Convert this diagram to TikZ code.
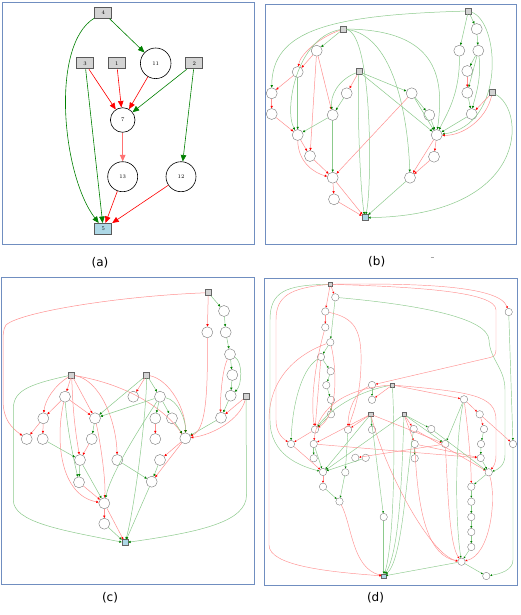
\documentclass[tikz,border=0pt]{standalone}
\usepackage{fontspec}
\newfontfamily\lblfont{DejaVu Sans}
\usetikzlibrary{arrows.meta}
\definecolor{frame}{RGB}{112,142,192}
\definecolor{ag}{RGB}{0,128,0}
\definecolor{ar}{RGB}{255,0,0}
\definecolor{lg}{RGB}{140,202,140}
\definecolor{lr}{RGB}{255,145,145}
\definecolor{boxgray}{RGB}{211,211,211}
\definecolor{lblue}{RGB}{173,216,230}
\definecolor{nodeedge}{RGB}{120,120,120}
\begin{document}
\begin{tikzpicture}[x=1pt,y=-1pt,
  framebox/.style={draw=frame,line width=0.9pt},
  paneltag/.style={font=\lblfont\fontsize{12}{14}\selectfont,inner sep=0pt},
  boxA/.style={draw=black!65,fill=boxgray,line width=1pt,minimum width=17pt,minimum height=11pt,inner sep=0pt,font=\fontsize{5.5}{6}\selectfont},
  cirA/.style={circle,draw=black,line width=0.6pt,inner sep=0pt,font=\fontsize{5.5}{6}\selectfont},
  boxB/.style={draw=black!60,fill=boxgray,line width=0.5pt,minimum size=6pt,inner sep=0pt},
  cirB/.style={circle,draw=nodeedge,line width=0.4pt,minimum size=11pt,inner sep=0pt},
  boxD/.style={draw=black!60,fill=boxgray,line width=0.45pt,minimum size=4.3pt,inner sep=0pt},
  cirD/.style={circle,draw=nodeedge,line width=0.35pt,minimum size=7.4pt,inner sep=0pt},
  gA/.style={draw=ag,line width=0.6pt,-{Triangle[length=6.5pt,width=5.5pt]}},
  rA/.style={draw=ar,line width=0.6pt,-{Triangle[length=6.5pt,width=5.5pt]}},
  gB/.style={draw=lg,line width=0.5pt,-{Triangle[length=2.4pt,width=2.2pt,color=ag]}},
  rB/.style={draw=lr,line width=0.5pt,-{Triangle[length=2.4pt,width=2.2pt,color=ar]}},
  gD/.style={draw=lg,line width=0.45pt,-{Triangle[length=1.9pt,width=1.8pt,color=ag]}},
  rD/.style={draw=lr,line width=0.45pt,-{Triangle[length=1.9pt,width=1.8pt,color=ar]}}
]
\useasboundingbox (0,0) rectangle (520,615);
\fill[white] (0,0) rectangle (520,615);
% frames and tags
\draw[framebox] (2.7,2.7) rectangle (254,244);
\draw[framebox] (265,4) rectangle (516.7,244);
\draw[framebox] (1,277.7) rectangle (254.3,584);
\draw[framebox] (264.7,278.3) rectangle (517.3,585);
\node[paneltag] (ta) at (100,262.5) {(a)};
\node[paneltag] (tb) at (376.7,262) {(b)};
\node[paneltag] (tc) at (110,598) {(c)};
\node[paneltag] (td) at (375.5,598) {(d)};
\draw[black!35,line width=0.5pt] (430.5,257) -- (434,257);

% ================= (a)
\node[boxA] (a4) at (103.3,12.7) {4};
\node[boxA] (a3) at (85,63.3) {3};
\node[boxA] (a1) at (116.7,63.3) {1};
\node[cirA,minimum size=30.6pt] (a11) at (155.7,63.3) {11};
\node[boxA] (a2) at (194.3,63.3) {2};
\node[cirA,minimum size=24.6pt] (a7) at (122.7,120) {7};
\node[cirA,minimum size=30pt] (a13) at (122.7,176.7) {13};
\node[cirA,minimum size=30pt] (a12) at (181,176.7) {12};
\node[boxA,fill=lblue] (a5) at (103.3,229) {5};
\draw[gA] (a4) -- (a11);
\draw[gA] (a4) .. controls (50,45) and (62,175) .. (a5);
\draw[rA] (a3) -- (a7);
\draw[gA] (a3) -- (a5);
\draw[rA] (a1) -- (a7);
\draw[rA] (a11) -- (a7);
\draw[gA] (a2) -- (a7);
\draw[gA] (a2) -- (a12);
\draw[rA,draw=ar!55,line width=1pt] (a7) -- (a13);
\draw[rA] (a13) -- (a5);
\draw[rA] (a12) -- (a5);

% ================= (b)
\node[boxB] (bT1) at (468.3,11) {};
\node[boxB] (bT2) at (343.3,29) {};
\node[boxB] (bT3) at (359,71.7) {};
\node[boxB] (bT4) at (492.3,92.7) {};
\node[boxB,fill=lblue] (bS) at (365,217.7) {};
\node[cirB] (bA) at (316.7,50.7) {};
\node[cirB] (bB) at (297.7,72) {};
\node[cirB] (bC) at (271.7,93.3) {};
\node[cirB] (bD) at (271.7,114) {};
\node[cirB] (bE) at (297.7,135) {};
\node[cirB] (bF) at (310,156) {};
\node[cirB] (bG) at (332.7,115) {};
\node[cirB] (bH) at (346.7,93.3) {};
\node[cirB] (bI) at (332.7,177.7) {};
\node[cirB] (bJ) at (334,199.3) {};
\node[cirB] (bK) at (411.7,93.3) {};
\node[cirB] (bL) at (429.3,115) {};
\node[cirB] (bM) at (436.7,135) {};
\node[cirB] (bN) at (434,156.7) {};
\node[cirB] (bO) at (410,177.7) {};
\node[cirB] (bP) at (459.3,50.7) {};
\node[cirB] (bQ) at (476.7,29) {};
\node[cirB] (bR) at (478.3,50.7) {};
\node[cirB] (bW) at (467.3,71) {};
\node[cirB] (bU) at (467.3,92.7) {};
\node[cirB] (bV) at (471.7,114) {};
\draw[gB] (bT1) .. controls (330,15) and (272,30) .. (bC);
\draw[gB] (bT1) -- (bQ);
\draw[gB] (bT1) -- (bP);
\draw[gB] (bT1) .. controls (500,22) and (506,125) .. (bM);
\draw[gB] (bQ) -- (bR);
\draw[gB] (bR) -- (bW);
\draw[gB] (bR) -- (bU);
\draw[gB] (bR) .. controls (482,80) and (474,100) .. (bV);
\draw[rB] (bW) -- (bU);
\draw[gB] (bU) -- (bV);
\draw[gB] (bP) .. controls (460,95) and (446,115) .. (bM);
\draw[rB] (bT4) -- (bV);
\draw[rB] (bT4) .. controls (486,120) and (462,136) .. (bM);
\draw[gB] (bT4) .. controls (526,110) and (530,215) .. (bS);
\draw[gB] (bV) -- (bM);
\draw[gB] (bT2) -- (bA);
\draw[rB] (bT2) .. controls (318,38) and (300,55) .. (bB);
\draw[rB] (bA) -- (bB);
\draw[rB] (bA) -- (bG);
\draw[rB] (bA) -- (bF);
\draw[gB] (bT2) .. controls (296,38) and (284,110) .. (bE);
\draw[rB] (bB) -- (bC);
\draw[gB] (bB) -- (bE);
\draw[rB] (bC) -- (bD);
\draw[rB] (bD) -- (bE);
\draw[rB] (bE) -- (bF);
\draw[rB] (bE) .. controls (298,162) and (314,173) .. (bI);
\draw[rB] (bF) -- (bI);
\draw[gB] (bT2) .. controls (373,34) and (372,190) .. (bS);
\draw[gB] (bT2) .. controls (395,35) and (408,120) .. (bO);
\draw[gB] (bT2) .. controls (440,30) and (444,80) .. (bM);
\draw[rB] (bT3) -- (bH);
\draw[gB] (bT3) .. controls (338,80) and (330,96) .. (bG);
\draw[gB] (bT3) -- (bK);
\draw[gB] (bT3) -- (bM);
\draw[gB] (bT3) .. controls (357,100) and (360,190) .. (bS);
\draw[gB] (bH) -- (bG);
\draw[gB] (bG) -- (bE);
\draw[gB] (bG) -- (bI);
\draw[rB] (bK) -- (bI);
\draw[gB] (bK) -- (bM);
\draw[gB] (bK) -- (bL);
\draw[gB] (bL) -- (bM);
\draw[rB] (bI) -- (bJ);
\draw[rB] (bI) -- (bS);
\draw[rB] (bJ) -- (bS);
\draw[rB] (bM) -- (bN);
\draw[rB] (bM) -- (bO);
\draw[rB] (bN) -- (bO);
\draw[gB] (bO) -- (bS);

% ================= (c)
\node[boxB] (cX1) at (208.3,292.7) {};
\node[boxB] (cX2) at (71.7,375) {};
\node[boxB] (cX3) at (146.7,375) {};
\node[boxB] (cX4) at (246,396.7) {};
\node[boxB,fill=lblue] (cS) at (125,542.7) {};
\node[cirB] (c1) at (224,311) {};
\node[cirB] (c2) at (207.3,332.3) {};
\node[cirB] (c3) at (225.7,332.3) {};
\node[cirB] (c4) at (230,354.3) {};
\node[cirB] (c5) at (232.3,375) {};
\node[cirB] (c6) at (230.7,395.7) {};
\node[cirB] (c7) at (221,417.7) {};
\node[cirB] (c8) at (185.3,438.3) {};
\node[cirB] (c9) at (65,396.7) {};
\node[cirB] (c10) at (43.3,418.3) {};
\node[cirB] (c11) at (26.7,439) {};
\node[cirB] (c12) at (42.7,439) {};
\node[cirB] (c13) at (95,418.3) {};
\node[cirB] (c14) at (91.7,439) {};
\node[cirB] (c15) at (80,460) {};
\node[cirB] (c16) at (79,482.3) {};
\node[cirB] (c17) at (117.3,460) {};
\node[cirB] (c18) at (133.3,396.7) {};
\node[cirB] (c19) at (160,396.7) {};
\node[cirB] (c20) at (155.3,418.3) {};
\node[cirB] (c21) at (172,418.3) {};
\node[cirB] (c22) at (155.3,439) {};
\node[cirB] (c23) at (160,460) {};
\node[cirB] (c24) at (151.7,481.7) {};
\node[cirB] (c25) at (104.3,503.3) {};
\node[cirB] (c26) at (104.3,523.7) {};
\draw[rB] (cX1) .. controls (120,296) and (20,312) .. (6,325) .. controls (3,329) and (3,335) .. (3,345) -- (3,400) .. controls (3,420) and (12,428) .. (c11);
\draw[rB] (cX1) -- (c2);
\draw[gB] (cX1) -- (c1);
\draw[gB] (c1) -- (c3);
\draw[gB] (c3) -- (c4);
\draw[gB] (c4) -- (c5);
\draw[gB] (c5) -- (c6);
\draw[gB] (c4) .. controls (243,362) and (242,385) .. (c6);
\draw[rB] (c4) .. controls (222,370) and (220,400) .. (c7);
\draw[gB] (c6) -- (c7);
\draw[gB] (c7) -- (c8);
\draw[rB] (cX4) -- (c7);
\draw[rB] (cX4) .. controls (240,420) and (212,435) .. (c8);
\draw[rB] (c2) .. controls (208,400) and (205,430) .. (c8);
\draw[gB] (cX4) -- (246.5,495) .. controls (246.5,522) and (200,532) .. (cS);
\draw[rB] (cX2) -- (c9);
\draw[rB] (cX2) .. controls (55,385) and (45,400) .. (c10);
\draw[rB] (cX2) -- (c13);
\draw[rB] (cX2) .. controls (73,420) and (77,440) .. (c15);
\draw[rB] (cX2) .. controls (100,380) and (116,420) .. (c17);
\draw[rB] (cX2) .. controls (130,385) and (165,410) .. (c8);
\draw[gB] (cX2) .. controls (25,385) and (13,392) .. (13.3,410) -- (13.3,500) .. controls (13.3,522) and (60,530) .. (cS);
\draw[rB] (c9) -- (c10);
\draw[rB] (c9) -- (c13);
\draw[gB] (c9) .. controls (67,430) and (75,465) .. (c16);
\draw[rB] (c9) .. controls (55,440) and (60,495) .. (c25);
\draw[rB] (c10) -- (c11);
\draw[rB] (c10) -- (c12);
\draw[gB] (c12) -- (c15);
\draw[gB] (c13) -- (c14);
\draw[rB] (c14) -- (c15);
\draw[rB] (c13) .. controls (100,440) and (106,480) .. (c25);
\draw[gB] (c15) -- (c16);
\draw[gB] (c15) -- (c25);
\draw[rB] (c16) -- (c25);
\draw[gB] (c17) -- (c24);
\draw[rB] (c25) -- (c26);
\draw[rB] (c25) -- (cS);
\draw[gB] (c26) -- (cS);
\draw[rB] (cX3) -- (c18);
\draw[gB] (cX3) -- (c19);
\draw[gB] (cX3) -- (c13);
\draw[gB] (c19) -- (c13);
\draw[gB] (cX3) .. controls (146,420) and (134,510) .. (cS);
\draw[rB] (cX3) .. controls (170,380) and (186,410) .. (c8);
\draw[gB] (c19) -- (c20);
\draw[gB] (c19) -- (c21);
\draw[gB] (c19) .. controls (178,400) and (186,420) .. (c8);
\draw[rB] (c20) -- (c22);
\draw[gB] (c21) -- (c8);
\draw[gB] (c19) .. controls (145,420) and (112,470) .. (c25);
\draw[rB] (c8) -- (c23);
\draw[rB] (c8) -- (c24);
\draw[gB] (c23) -- (c24);
\draw[gB] (c24) -- (cS);

% ================= (d)
\node[boxD] (Y1) at (330.3,284.3) {};
\node[boxD] (Y2) at (392.3,385) {};
\node[boxD] (Y3) at (370.7,414.3) {};
\node[boxD] (Y4) at (404,414.5) {};
\node[boxD,fill=lblue] (dS) at (383.7,576) {};
\node[cirD] (d1) at (335.3,297.3) {};
\node[cirD] (d2) at (325.3,311.5) {};
\node[cirD] (d3) at (325.3,327.3) {};
\node[cirD] (d4) at (330.3,342.3) {};
\node[cirD] (d5) at (321,357) {};
\node[cirD] (d6) at (330.7,371.2) {};
\node[cirD] (d7) at (326.3,385.2) {};
\node[cirD] (d8) at (331,399.8) {};
\node[cirD] (d9) at (331,414.3) {};
\node[cirD] (d10) at (315,429.5) {};
\node[cirD] (d11) at (291,444) {};
\node[cirD] (d12) at (313.7,444) {};
\node[cirD] (d13) at (313.7,458.3) {};
\node[cirD] (d14) at (323,472) {};
\node[cirD] (d15) at (323,486.7) {};
\node[cirD] (d16) at (339.5,501.5) {};
\node[cirD] (d17) at (345.3,472.3) {};
\node[cirD] (d18) at (355.3,457.8) {};
\node[cirD] (d19) at (365.7,457.8) {};
\node[cirD] (d20) at (348,429.7) {};
\node[cirD] (d21) at (372,429.7) {};
\node[cirD] (d22) at (372,385) {};
\node[cirD] (d23) at (372,399.8) {};
\node[cirD] (d24) at (383.7,517) {};
\node[cirD] (d25) at (508.7,312) {};
\node[cirD] (d26) at (464,399.3) {};
\node[cirD] (d27) at (479.7,414.3) {};
\node[cirD] (d28) at (484,429) {};
\node[cirD] (d29) at (481,444) {};
\node[cirD] (d30) at (480.7,458) {};
\node[cirD] (d31) at (488.7,472.3) {};
\node[cirD] (d32) at (513,444) {};
\node[cirD] (d33) at (413.7,429) {};
\node[cirD] (d34) at (431.3,429) {};
\node[cirD] (d35) at (414.7,444) {};
\node[cirD] (d36) at (414.7,458.3) {};
\node[cirD] (d37) at (445.3,444) {};
\node[cirD] (d38) at (471.3,486.7) {};
\node[cirD] (d39) at (471.3,501.7) {};
\node[cirD] (d40) at (471.3,517) {};
\node[cirD] (d41) at (471.3,532) {};
\node[cirD] (d42) at (471.3,547) {};
\node[cirD] (d43) at (461.5,561.7) {};
\node[cirD] (d44) at (486.3,576) {};
\draw[rD] (Y1) -- (d1);
\draw[rD] (Y1) -- (d2);
\draw[gD] (d1) -- (d4);
\draw[rD] (d2) -- (d3);
\draw[rD] (d3) .. controls (316,360) and (310,400) .. (d10);
\draw[gD] (d4) -- (d5);
\draw[gD] (d5) -- (d6);
\draw[gD] (d6) -- (d7);
\draw[gD] (d7) -- (d8);
\draw[gD] (d8) -- (d9);
\draw[gD] (d9) -- (d10);
\draw[rD] (d4) .. controls (337,370) and (338,415) .. (d10);
\draw[rD] (d5) -- (d10);
\draw[rD] (d2) .. controls (355,318) and (362,330) .. (361,365) .. controls (360,400) and (352,415) .. (d20);
\draw[gD] (d5) .. controls (300,370) and (292,410) .. (d11);
\draw[rD] (d4) .. controls (295,355) and (269,380) .. (269,420) -- (269,545) .. controls (269,566) and (330,572) .. (dS);
\draw[gD] (Y1) .. controls (285,285) and (270,292) .. (270,320) -- (270,420) .. controls (270,455) and (300,466) .. (d14);
\draw[rD] (Y1) .. controls (290,288) and (276,296) .. (276,320) -- (276,420) .. controls (276,432) and (282,438) .. (d11);
\draw[rD] (Y1) .. controls (420,283) and (500,286) .. (d25);
\draw[rD] (Y1) .. controls (420,287) and (496,292) .. (496,310) -- (496,350) .. controls (496,356) and (493,357) .. (488,358) -- (d22);
\draw[gD] (d1) .. controls (420,305) and (488,318) .. (489,340) .. controls (490,360) and (505,368) .. (505,390) -- (505,455) .. controls (505,466) and (497,470) .. (d31);
\draw[gD] (d25) -- (d32);
\draw[gD] (d22) -- (d23);
\draw[rD] (Y2) -- (d23);
\draw[gD] (Y2) .. controls (355,392) and (330,410) .. (d10);
\draw[rD] (Y2) .. controls (350,388) and (318,405) .. (d12);
\draw[gD] (Y2) .. controls (395,430) and (395,540) .. (dS);
\draw[rD] (Y2) -- (d26);
\draw[rD] (Y2) .. controls (470,392) and (496,395) .. (496,420) -- (496,455) .. controls (496,464) and (493,467) .. (d31);
\draw[rD] (d22) .. controls (355,392) and (348,410) .. (d20);
\draw[rD] (Y3) -- (d20);
\draw[gD] (Y3) -- (d21);
\draw[gD] (Y3) -- (d14);
\draw[rD] (Y3) -- (d12);
\draw[gD] (Y3) -- (d24);
\draw[rD] (Y3) -- (d37);
\draw[rD] (Y3) .. controls (385,470) and (430,555) .. (d43);
\draw[rD] (Y4) -- (d33);
\draw[gD] (Y4) -- (d34);
\draw[rD] (Y4) -- (d35);
\draw[gD] (Y4) -- (d37);
\draw[gD] (Y4) -- (d14);
\draw[gD] (Y4) .. controls (402,470) and (400,550) .. (dS);
\draw[rD] (d33) -- (d31);
\draw[gD] (d33) .. controls (406,480) and (402,560) .. (dS);
\draw[gD] (d35) -- (d36);
\draw[rD] (d35) -- (d30);
\draw[rD] (d35) .. controls (418,520) and (430,556) .. (d43);
\draw[rD] (d26) -- (d27);
\draw[rD] (d27) -- (d28);
\draw[gD] (d28) -- (d29);
\draw[gD] (d29) -- (d30);
\draw[gD] (d30) -- (d31);
\draw[gD] (d26) -- (d37);
\draw[rD] (d26) .. controls (468,430) and (471,460) .. (d38);
\draw[gD] (d26) .. controls (455,440) and (455,520) .. (d43);
\draw[gD] (d31) -- (d38);
\draw[gD] (d38) -- (d39);
\draw[gD] (d39) -- (d40);
\draw[gD] (d40) -- (d41);
\draw[gD] (d41) -- (d42);
\draw[gD] (d42) -- (d43);
\draw[gD] (d43) -- (dS);
\draw[gD] (d43) -- (d44);
\draw[rD] (d27) -- (d32);
\draw[rD] (d37) .. controls (448,500) and (450,545) .. (d43);
\draw[rD] (d31) .. controls (497,500) and (490,555) .. (d43);
\draw[gD] (d32) -- (513,560) .. controls (513,570) and (500,574) .. (d44);
\draw[gD] (d34) -- (d31);
\draw[rD] (d10) -- (d11);
\draw[rD] (d11) -- (d14);
\draw[gD] (d12) -- (d13);
\draw[gD] (d12) -- (d14);
\draw[rD] (d14) -- (d15);
\draw[gD] (d15) -- (d16);
\draw[gD] (d20) -- (d17);
\draw[gD] (d17) -- (d16);
\draw[gD] (d19) -- (d14);
\draw[rD] (d37) -- (d18);
\draw[rD] (d16) .. controls (352,525) and (352,568) .. (dS);
\draw[gD] (d24) -- (dS);
\draw[rD] (d12) -- (d30);
\end{tikzpicture}
\end{document}
